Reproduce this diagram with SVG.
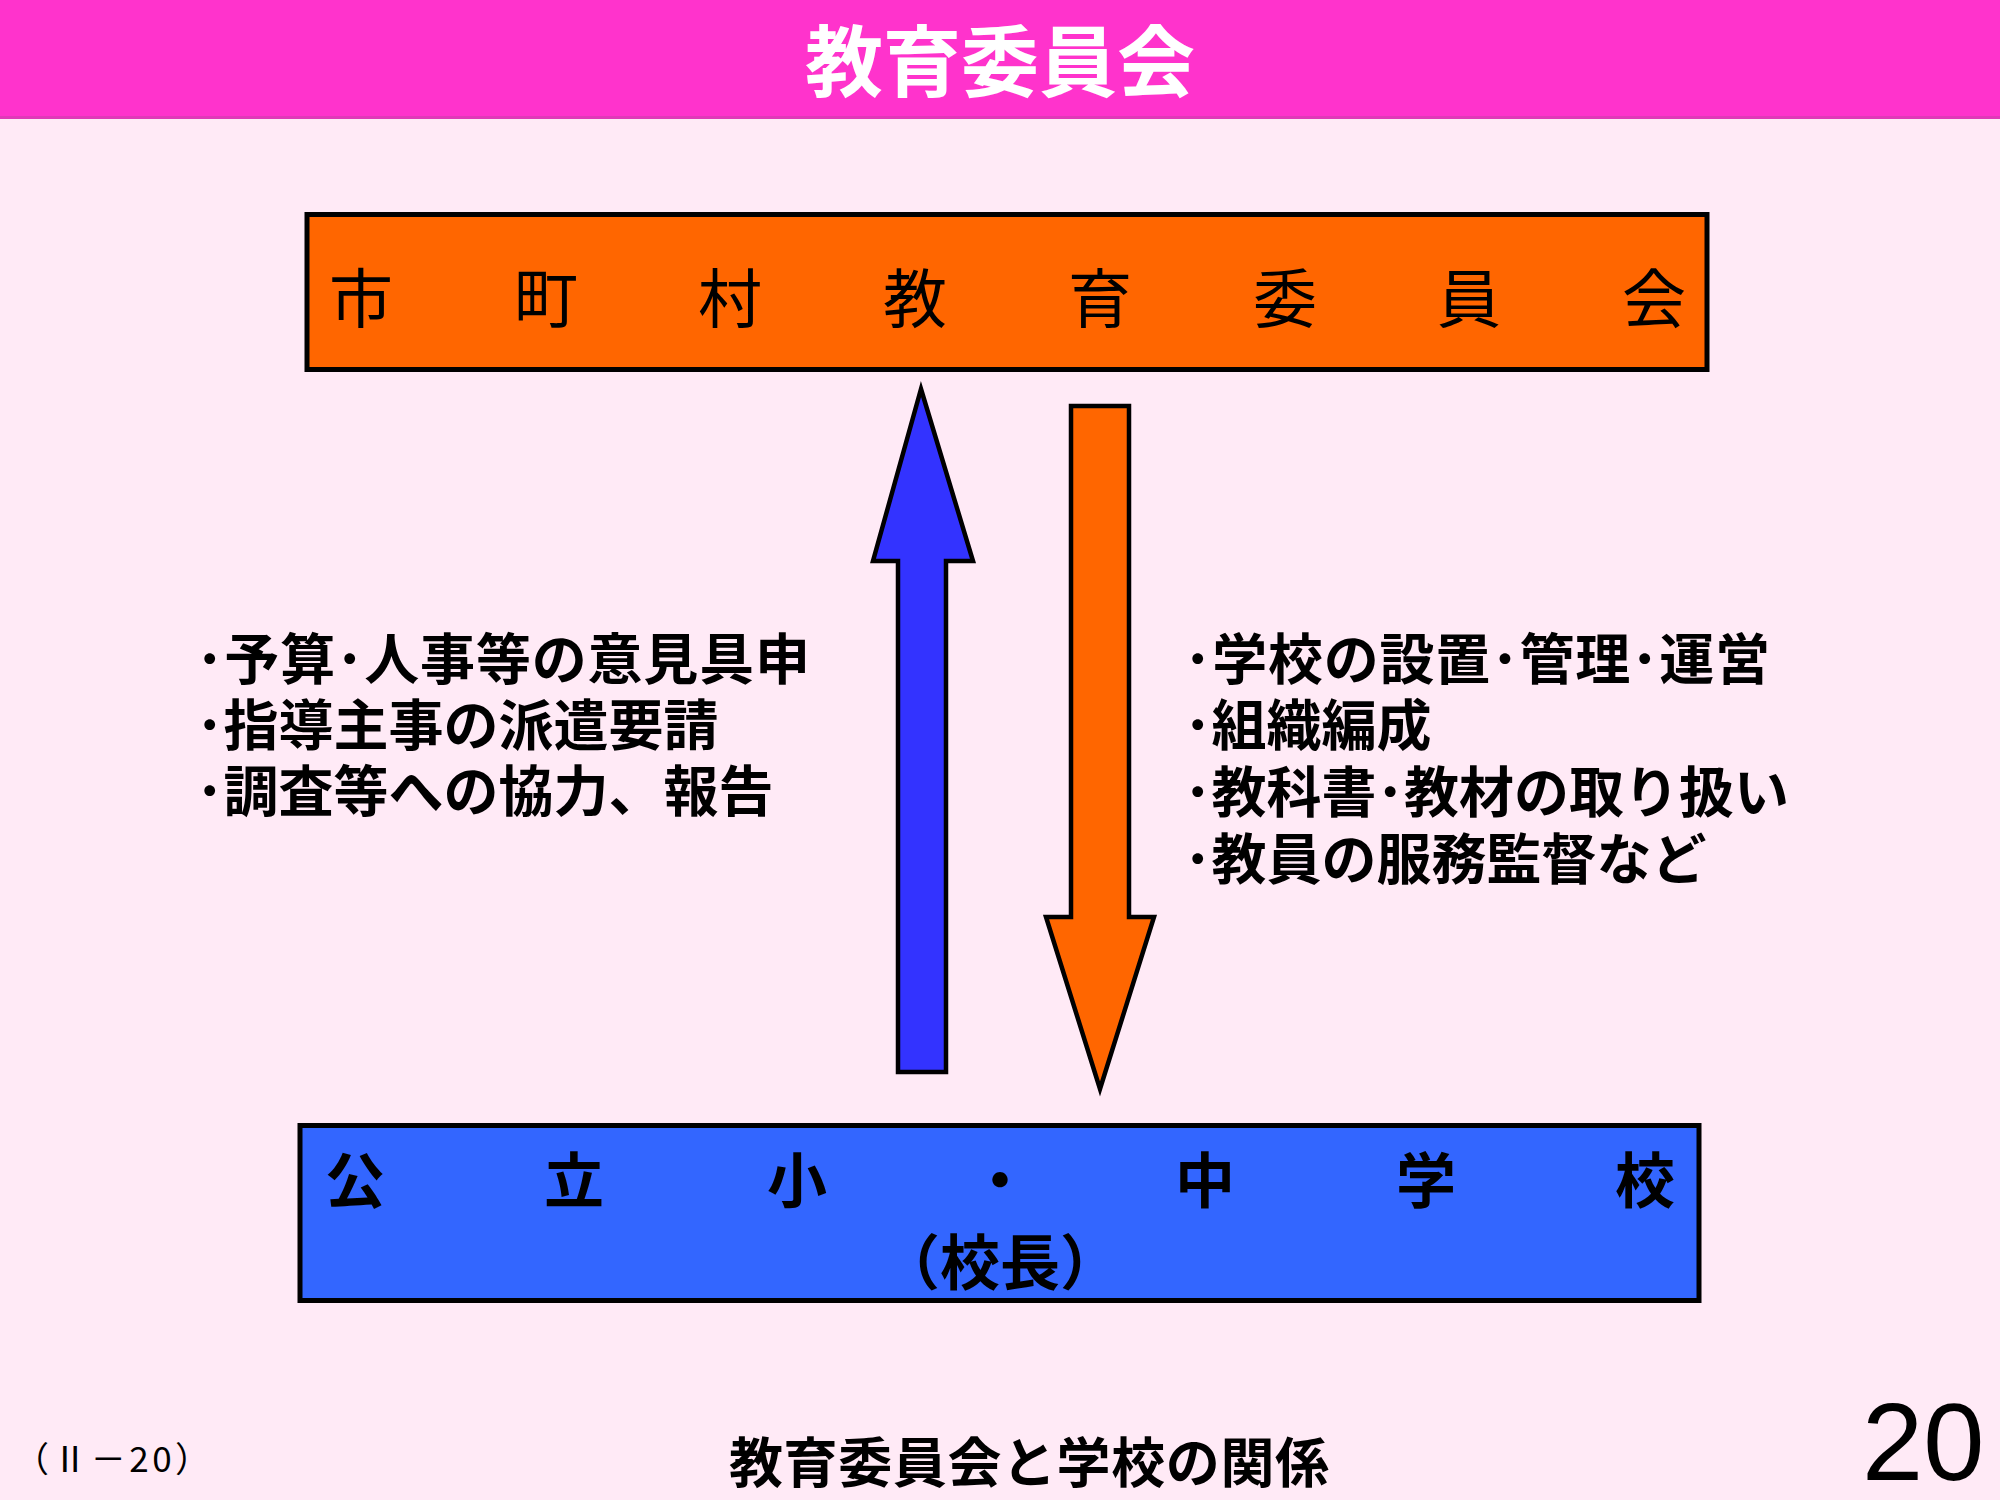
<svg xmlns="http://www.w3.org/2000/svg" width="2000" height="1500" viewBox="0 0 2000 1500">
<style>
.jp{font-family:"Noto Sans CJK JP","Noto Sans CJK SC",sans-serif;}
.b{font-weight:bold;}
.box{stroke:#000;stroke-width:5;}
.arr{stroke:#000;stroke-width:4.5;stroke-linejoin:miter;}
.lbl{font-size:55px;font-weight:bold;fill:#000;}
.big{font-size:64px;fill:#000;text-anchor:middle;}
.sch{font-size:60px;font-weight:bold;fill:#000;text-anchor:middle;}
</style>
<rect x="0" y="0" width="2000" height="1500" fill="#FFEAF6"/>
<g id="header">
<rect x="0" y="0" width="2000" height="118" fill="#FF33CC"/>
<rect x="0" y="116" width="2000" height="3" fill="#E03AB8"/>
<text class="jp b" x="1000" y="91" font-size="78" fill="#FFFFFF" text-anchor="middle">教育委員会</text>
</g>
<g id="node-board">
<rect class="box" x="307" y="214.5" width="1400" height="155" fill="#FF6600"/>
<text class="jp big" y="322"><tspan x="361">市</tspan><tspan x="546">町</tspan><tspan x="730">村</tspan><tspan x="915">教</tspan><tspan x="1100">育</tspan><tspan x="1285">委</tspan><tspan x="1469">員</tspan><tspan x="1654">会</tspan></text>
</g>
<g id="node-school">
<rect class="box" x="300" y="1125.5" width="1399" height="175" fill="#3366FF"/>
<text class="jp sch" y="1203"><tspan x="355">公</tspan><tspan x="574">立</tspan><tspan x="797">小</tspan><tspan x="1000">・</tspan><tspan x="1205">中</tspan><tspan x="1426">学</tspan><tspan x="1645">校</tspan></text>
<text class="jp sch" x="1000" y="1285">（校長）</text>
</g>
<g id="connectors">
<polygon id="arrow-up" class="arr" fill="#3333FF" points="921,389 973,561 946,561 946,1072 898,1072 898,561 873,561"/>
<polygon id="arrow-down" class="arr" fill="#FF6600" points="1071,406 1129,406 1129,917 1154,917 1100,1089 1046,917 1071,917"/>
</g>
<g id="label-up">
<text class="jp lbl" y="679"><tspan x="196" textLength="614" lengthAdjust="spacing">･予算･人事等の意見具申</tspan><tspan x="196" y="745">･指導主事の派遣要請</tspan><tspan x="196" y="811">･調査等への協力、報告</tspan></text>
</g>
<g id="label-down">
<text class="jp lbl" y="679"><tspan x="1184" textLength="586" lengthAdjust="spacing">･学校の設置･管理･運営</tspan><tspan x="1184" y="745">･組織編成</tspan><tspan x="1184" y="812">･教科書･教材の取り扱い</tspan><tspan x="1184" y="879">･教員の服務監督など</tspan></text>
</g>
<g id="footer">
<text class="jp" x="14" y="1472" font-size="35" fill="#000" textLength="196" lengthAdjust="spacing">（Ⅱ－20）</text>
<text class="jp b" x="729" y="1483" font-size="54" fill="#000" textLength="600" lengthAdjust="spacing">教育委員会と学校の関係</text>
<text x="1862" y="1480" font-family="Liberation Sans, Arial, sans-serif" font-size="110" fill="#000">20</text>
</g>
</svg>
